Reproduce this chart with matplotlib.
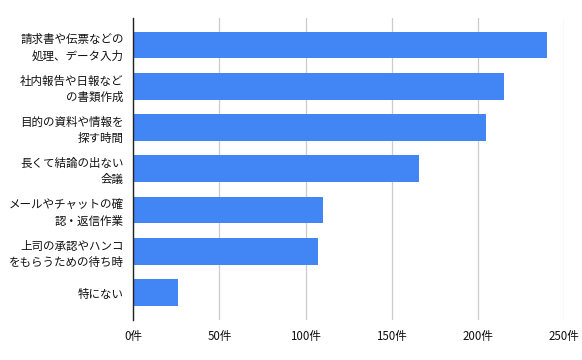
import matplotlib
matplotlib.use("Agg")
import matplotlib.pyplot as plt

plt.rcParams['font.family'] = ['Noto Sans CJK JP', 'DejaVu Sans']

# categories and counts
categories = [
    "請求書や伝票などの\n処理、データ入力",
    "社内報告や日報など\nの書類作成",
    "目的の資料や情報を\n探す時間",
    "長くて結論の出ない\n会議",
    "メールやチャットの確\n認・返信作業",
    "上司の承認やハンコ\nをもらうための待ち時",
    "特にない",
]
counts = [240, 215, 205, 166, 110, 107, 26]
xticks = [0, 50, 100, 150, 200, 250]
xtick_labels = [f"{v}件" for v in xticks]

fig = plt.figure(figsize=(5.82, 3.6), dpi=100)
ax = fig.add_axes([0.229, 0.111, 0.740, 0.839])

y = range(len(categories))
ax.barh(y, counts, height=0.645, color="#4285F4", zorder=3)

ax.set_xlim(0, 250)
ax.set_ylim(6.66, -0.65)
ax.set_yticks(list(y))
ax.set_yticklabels(categories, fontsize=8.3, color="#111111", linespacing=1.3)
ax.set_xticks(xticks)
ax.set_xticklabels(xtick_labels, fontsize=8.3, color="#111111")

ax.grid(axis="x", color="#cccccc", linewidth=0.9, zorder=0)
ax.tick_params(axis="both", length=0)
ax.tick_params(axis="x", pad=7)
ax.tick_params(axis="y", pad=7)
for side in ["top", "right", "bottom"]:
    ax.spines[side].set_visible(False)
ax.spines["left"].set_color("#222222")
ax.spines["left"].set_linewidth(1.0)
ax.spines["left"].set_zorder(4)

fig.savefig("out.png", dpi=100, facecolor="white")
